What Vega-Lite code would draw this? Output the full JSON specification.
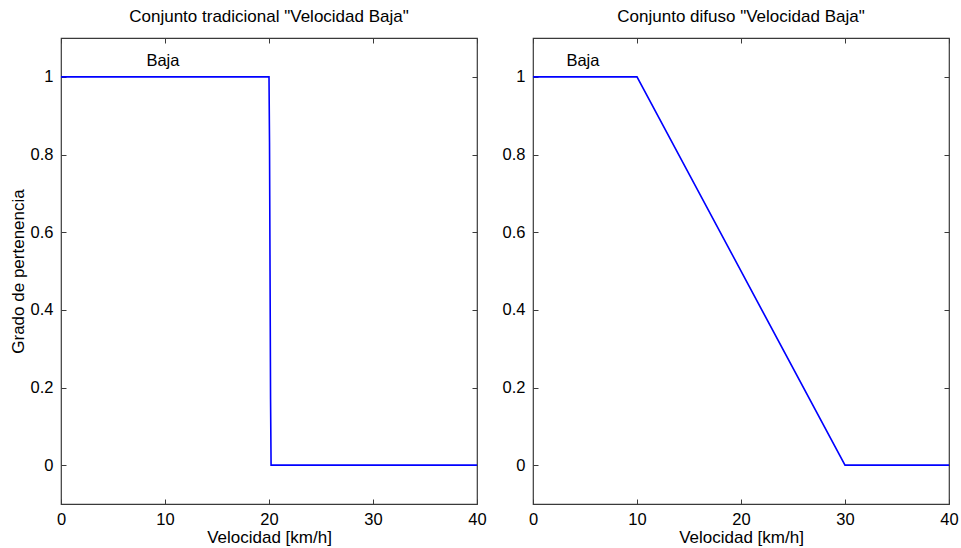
{
  "$schema": "https://vega.github.io/schema/vega-lite/v6.json",
  "background": "white",
  "padding": {"left": 8, "top": 6, "right": 0, "bottom": 0},
  "config": {
    "font": "Liberation Sans",
    "view": {"stroke": "#3a3a3a", "strokeWidth": 1.2},
    "axis": {"grid": false, "domain": false, "labelFlush": false, "labelOverlap": false, "tickColor": "#3a3a3a", "tickSize": -5, "tickWidth": 1, "labelFont": "Liberation Sans", "labelFontSize": 16.5, "labelColor": "#000", "titleFont": "Liberation Sans", "titleFontSize": 17, "titleFontWeight": "normal", "titleColor": "#000"},
    "title": {"font": "Liberation Sans", "fontSize": 17, "fontWeight": "normal", "color": "#000", "offset": 12},
    "concat": {"spacing": 14}
  },
  "datasets": {
    "trad": [
      {"v": 0, "g": 1}, {"v": 20, "g": 1}, {"v": 20.05, "g": 0.83}, {"v": 20.1, "g": 0.5}, {"v": 20.15, "g": 0.17}, {"v": 20.2, "g": 0}, {"v": 40, "g": 0}
    ],
    "difuso": [
      {"v": 0, "g": 1}, {"v": 10, "g": 1}, {"v": 30, "g": 0}, {"v": 40, "g": 0}
    ],
    "lab1": [{"v": 9.8, "g": 1.04, "t": "Baja"}],
    "lab2": [{"v": 4.8, "g": 1.04, "t": "Baja"}]
  },
  "hconcat": [
    {
      "title": "Conjunto tradicional \"Velocidad Baja\"",
      "width": 416, "height": 466,
      "layer": [
        {
          "data": {"name": "trad"},
          "mark": {"type": "line", "color": "#0000ff", "strokeWidth": 1.6},
          "encoding": {
            "x": {"field": "v", "type": "quantitative", "scale": {"domain": [0, 40], "nice": false, "zero": false}, "axis": {"title": "Velocidad [km/h]", "values": [0, 10, 20, 30, 40], "format": "d", "labelPadding": 12, "titlePadding": 2}},
            "y": {"field": "g", "type": "quantitative", "scale": {"domain": [-0.1, 1.1], "nice": false, "zero": false}, "axis": {"title": "Grado de pertenencia", "values": [0, 0.2, 0.4, 0.6, 0.8, 1], "format": "~r", "labelPadding": 13, "titlePadding": 3}}
          }
        },
        {
          "data": {"name": "lab1"},
          "mark": {"type": "text", "fontSize": 16.5, "color": "#000", "font": "Liberation Sans"},
          "encoding": {
            "x": {"field": "v", "type": "quantitative", "axis": {"orient": "top", "labels": false, "title": null, "values": [0, 10, 20, 30, 40]}},
            "y": {"field": "g", "type": "quantitative", "axis": {"orient": "right", "labels": false, "title": null, "values": [0, 0.2, 0.4, 0.6, 0.8, 1]}},
            "text": {"field": "t"}
          }
        }
      ],
      "resolve": {"axis": {"x": "independent", "y": "independent"}}
    },
    {
      "title": "Conjunto difuso \"Velocidad Baja\"",
      "width": 416, "height": 466,
      "layer": [
        {
          "data": {"name": "difuso"},
          "mark": {"type": "line", "color": "#0000ff", "strokeWidth": 1.6},
          "encoding": {
            "x": {"field": "v", "type": "quantitative", "scale": {"domain": [0, 40], "nice": false, "zero": false}, "axis": {"title": "Velocidad [km/h]", "values": [0, 10, 20, 30, 40], "format": "d", "labelPadding": 12, "titlePadding": 2}},
            "y": {"field": "g", "type": "quantitative", "scale": {"domain": [-0.1, 1.1], "nice": false, "zero": false}, "axis": {"title": null, "values": [0, 0.2, 0.4, 0.6, 0.8, 1], "format": "~r", "labelPadding": 13}}
          }
        },
        {
          "data": {"name": "lab2"},
          "mark": {"type": "text", "fontSize": 16.5, "color": "#000", "font": "Liberation Sans"},
          "encoding": {
            "x": {"field": "v", "type": "quantitative", "axis": {"orient": "top", "labels": false, "title": null, "values": [0, 10, 20, 30, 40]}},
            "y": {"field": "g", "type": "quantitative", "axis": {"orient": "right", "labels": false, "title": null, "values": [0, 0.2, 0.4, 0.6, 0.8, 1]}},
            "text": {"field": "t"}
          }
        }
      ],
      "resolve": {"axis": {"x": "independent", "y": "independent"}}
    }
  ]
}
